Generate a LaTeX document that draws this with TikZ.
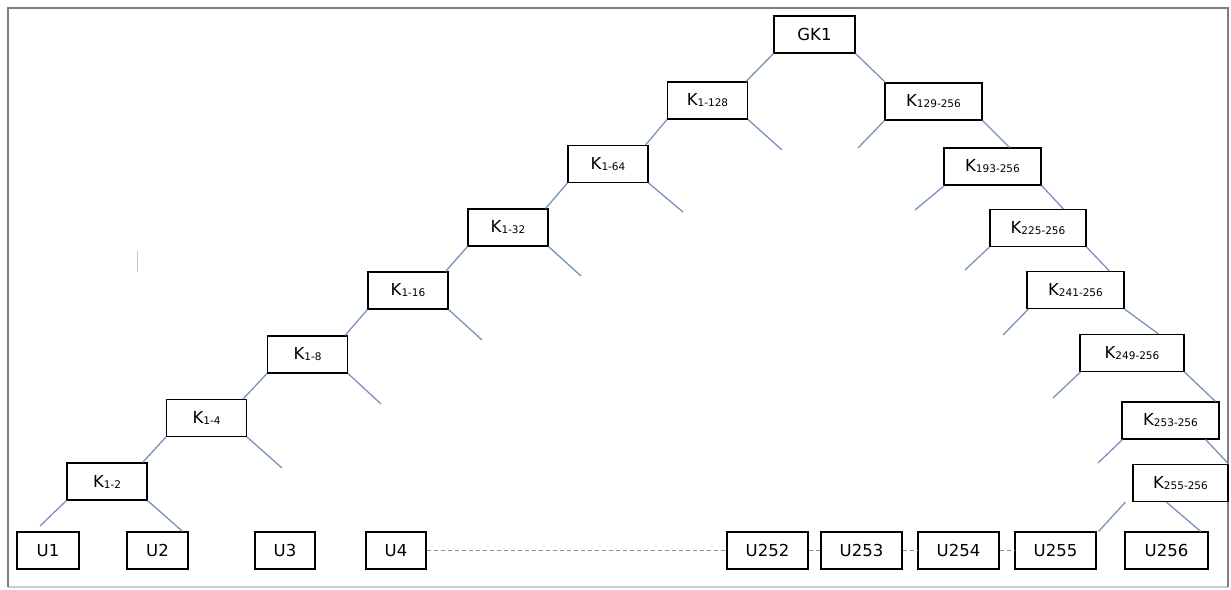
\documentclass[tikz,border=0pt]{standalone}
\usepackage{fontspec}
\setmainfont{DejaVu Sans}
\definecolor{linkc}{RGB}{122,146,190}
\definecolor{framec}{RGB}{120,126,138}
\definecolor{framelt}{RGB}{200,205,212}
\newcommand\ksub[1]{K\raisebox{-1pt}{\fontsize{10.5}{12}\selectfont #1}}
\begin{document}
\begin{tikzpicture}[x=1pt,y=-1pt,
  box/.style={draw=black,line width=1.2pt,fill=white,inner sep=0pt,minimum height=37pt,font=\fontsize{16.5}{20}\selectfont},
  link/.style={draw=linkc,line width=1.3pt},
  dlink/.style={draw=linkc,line width=1pt,dash pattern=on 4pt off 3pt}]
\useasboundingbox (0,0) rectangle (1231,589);
% frame
\draw[framelt,line width=1.2pt] (8,587) -- (1228,587);
\draw[framec,line width=1.5pt] (8,587) -- (8,8) -- (1228,8) -- (1228,587);
\draw[gray!45,line width=1pt] (137,251) -- (137,272);
% top
\node[box,minimum width=81pt] (gk) at (814.5,34.5) {GK1};
% left chain
\node[box,minimum width=80pt] (k128) at (707.5,100.5) {\ksub{1-128}};
\node[box,minimum width=80pt] (k64) at (608,164) {\ksub{1-64}};
\node[box,minimum width=80pt] (k32) at (508,227.5) {\ksub{1-32}};
\node[box,minimum width=80pt] (k16) at (408,290.5) {\ksub{1-16}};
\node[box,minimum width=80pt] (k8) at (307.5,354.5) {\ksub{1-8}};
\node[box,minimum width=80pt] (k4) at (206.5,418) {\ksub{1-4}};
\node[box,minimum width=80pt] (k2) at (107,481.5) {\ksub{1-2}};
% right chain
\node[box,minimum width=97pt] (r129) at (933.5,101.5) {\ksub{129-256}};
\node[box,minimum width=97pt] (r193) at (992.5,166.5) {\ksub{193-256}};
\node[box,minimum width=96pt] (r225) at (1038,228) {\ksub{225-256}};
\node[box,minimum width=97pt] (r241) at (1075.5,290) {\ksub{241-256}};
\node[box,minimum width=104pt] (r249) at (1132,353) {\ksub{249-256}};
\node[box,minimum width=97pt] (r253) at (1170.5,420.5) {\ksub{253-256}};
\node[box,minimum width=95pt] (r255) at (1180.5,483) {\ksub{255-256}};
% users
\node[box,minimum width=62pt] (u1) at (48,550.5) {U1};
\node[box,minimum width=61pt] (u2) at (157.5,550.5) {U2};
\node[box,minimum width=60pt] (u3) at (285,550.5) {U3};
\node[box,minimum width=60pt] (u4) at (396,550.5) {U4};
\node[box,minimum width=81pt] (u252) at (767.5,550.5) {U252};
\node[box,minimum width=81pt] (u253) at (861.5,550.5) {U253};
\node[box,minimum width=81pt] (u254) at (958.5,550.5) {U254};
\node[box,minimum width=81pt] (u255) at (1055.5,550.5) {U255};
\node[box,minimum width=83pt] (u256) at (1166.5,550.5) {U256};
% free ends
\coordinate (f128) at (782,150);
\coordinate (f64) at (683,212);
\coordinate (f32) at (581,276);
\coordinate (f16) at (482,340);
\coordinate (f8) at (381,404);
\coordinate (f4) at (282,468);
\coordinate (f2) at (40,526);
\coordinate (g129) at (858,148);
\coordinate (g193) at (915,210);
\coordinate (g225) at (965,270);
\coordinate (g241) at (1003,335);
\coordinate (g249) at (1053,398);
\coordinate (g253) at (1098,463);
% left links
\draw[link] (gk.south west) -- ([xshift=-2pt]k128.north east);
\draw[link] (k128.south west) -- ([xshift=-3pt]k64.north east);
\draw[link] (k64.south west) -- ([xshift=-3pt]k32.north east);
\draw[link] (k32.south west) -- ([xshift=-3pt]k16.north east);
\draw[link] (k16.south west) -- ([xshift=-3pt]k8.north east);
\draw[link] (k8.south west) -- ([xshift=-4pt]k4.north east);
\draw[link] (k4.south west) -- ([xshift=-5pt]k2.north east);
\draw[link] (k128.south east) -- (f128);
\draw[link] (k64.south east) -- (f64);
\draw[link] (k32.south east) -- (f32);
\draw[link] (k16.south east) -- (f16);
\draw[link] (k8.south east) -- (f8);
\draw[link] (k4.south east) -- (f4);
\draw[link] (k2.south west) -- (f2);
\draw[link] (k2.south east) -- ([xshift=-6pt]u2.north east);
% right links
\draw[link] (gk.south east) -- ([xshift=1pt]r129.north west);
\draw[link] (r129.south east) -- ([xshift=66pt]r193.north west);
\draw[link] (r193.south east) -- ([xshift=74pt]r225.north west);
\draw[link] (r225.south east) -- ([xshift=83pt]r241.north west);
\draw[link] (r241.south east) -- ([xshift=79pt]r249.north west);
\draw[link] (r249.south east) -- ([xshift=94pt]r253.north west);
\draw[link] ([xshift=-14pt]r253.south east) -- (r255.north east);
\draw[link] (r129.south west) -- (g129);
\draw[link] ([xshift=1pt]r193.south west) -- (g193);
\draw[link] (r225.south west) -- (g225);
\draw[link] ([xshift=2pt]r241.south west) -- (g241);
\draw[link] ([xshift=1pt]r249.south west) -- (g249);
\draw[link] ([xshift=1pt]r253.south west) -- (g253);
\draw[link] ([xshift=-7pt]r255.south west) -- ([xshift=2pt]u255.north east);
\draw[link] ([xshift=34pt]r255.south west) -- ([xshift=-8pt]u256.north east);
% dashed user row
\draw[dlink] (u4) -- (u252);
\draw[dlink] (u252) -- (u253);
\draw[dlink] (u253) -- (u254);
\draw[dlink] (u254) -- (u255);
\end{tikzpicture}
\end{document}
